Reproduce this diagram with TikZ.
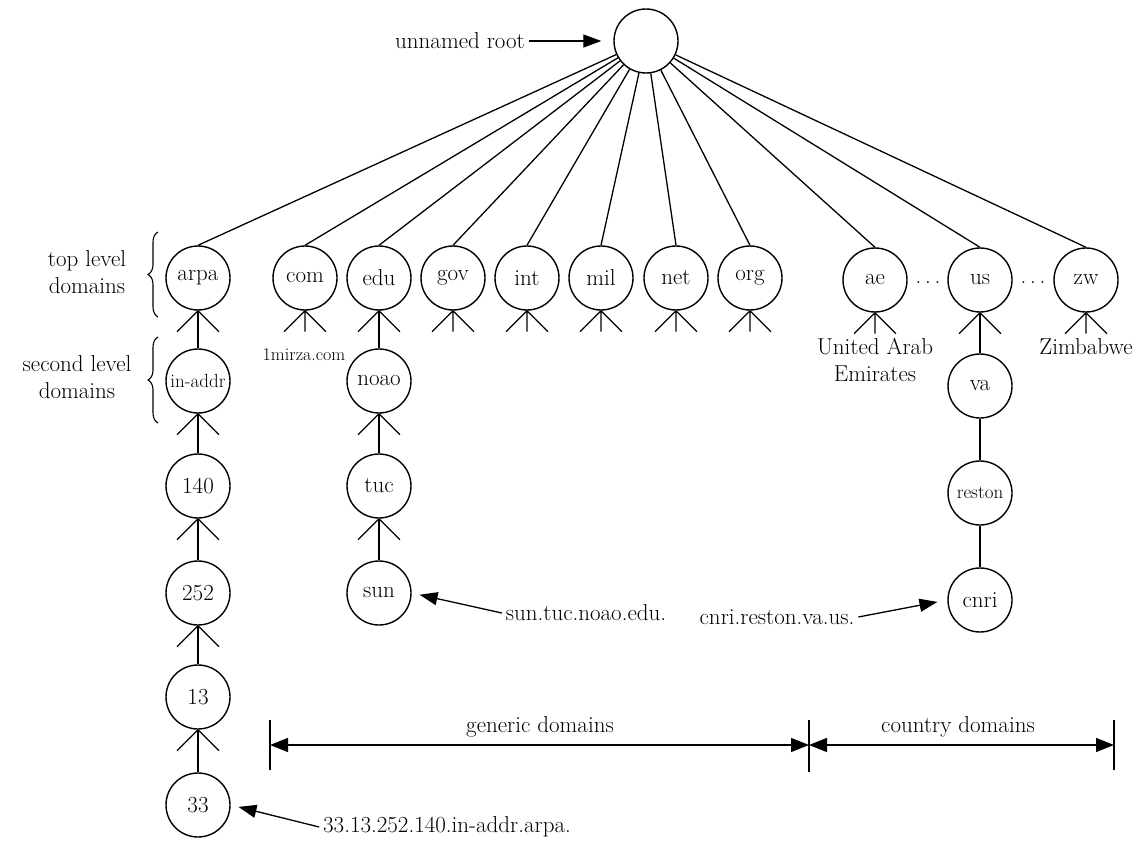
\documentclass[tikz,border=0pt]{standalone}
\usetikzlibrary{arrows.meta,decorations.pathreplacing}
\begin{document}
\begin{tikzpicture}[x=1pt,y=-1pt,
  line width=1.3pt,
  every node/.style={font=\fontsize{23}{27}\selectfont},
  dom/.style={draw,circle,minimum size=64pt,inner sep=0pt,line width=1.4pt},
  smalltxt/.style={font=\fontsize{19}{22}\selectfont},
  tinytxt/.style={font=\fontsize{18}{21}\selectfont},
  arr/.style={-{Triangle[length=18pt,width=13pt]}},
  dimarr/.style={{Triangle[length=18pt,width=14pt]}-{Triangle[length=18pt,width=14pt]}},
  crow/.pic={\draw (0,0) -- (-21,21) (0,0) -- (21,21) (0,0) -- (0,21);},
  vee/.pic={\draw (0,0) -- (-21,21) (0,0) -- (21,21);}
]
\useasboundingbox (0,0) rectangle (1145,842);

% root
\node[dom] (root) at (646,41) {};
\node (rootlbl) at (460,41) {unnamed root};
\draw[arr,shorten >=12pt] (rootlbl.east) -- (root.west);

% top level
\node[dom] (arpa) at (198,278) {arpa};
\node[dom] (com)  at (305,278) {com};
\node[dom] (edu)  at (379,278) {edu};
\node[dom] (gov)  at (453,278) {gov};
\node[dom] (int)  at (527,278) {int};
\node[dom] (mil)  at (601,278) {mil};
\node[dom] (net)  at (676,278) {net};
\node[dom] (org)  at (750,278) {org};
\node[dom] (ae)   at (875,280) {ae};
\node[dom] (us)   at (980,280) {us};
\node[dom] (zw)   at (1086,280) {zw};
\node (d1) at (928,283) {.\,.\,.};
\node (d2) at (1033,283) {.\,.\,.};

\foreach \n in {arpa,com,edu,gov,int,mil,net,org,ae,us,zw}
  \draw (root) -- (\n.north);

% braces
\node[align=center] (toplbl) at (87,272) {top level\\domains};
\node[align=center] (seclbl) at (77,377) {second level\\domains};
\coordinate (b1a) at (158,317);
\coordinate (b1b) at (158,232);
\coordinate (b2a) at (158,423);
\coordinate (b2b) at (158,337);
\draw[decorate,decoration={brace,amplitude=10pt},line width=1.1pt] (b1a) -- (b1b);
\draw[decorate,decoration={brace,amplitude=10pt},line width=1.1pt] (b2a) -- (b2b);

% arpa chain
\node[dom,smalltxt] (inaddr) at (198,381) {in-addr};
\node[dom] (n140) at (198,486) {140};
\node[dom] (n252) at (198,593) {252};
\node[dom] (n13)  at (198,697) {13};
\node[dom] (n33)  at (198,805) {33};
\pic at (arpa.south) {vee};   \draw (arpa.south) -- (inaddr.north);
\pic at (inaddr.south) {vee}; \draw (inaddr.south) -- (n140.north);
\pic at (n140.south) {vee};   \draw (n140.south) -- (n252.north);
\pic at (n252.south) {vee};   \draw (n252.south) -- (n13.north);
\pic at (n13.south) {vee};    \draw (n13.south) -- (n33.north);
\node (addrlbl) at (447,827) {33.13.252.140.in-addr.arpa.};
\draw[arr,shorten >=8pt] (addrlbl.west) -- (n33.east);

% com etc
\pic at (com.south) {crow};
\pic at (gov.south) {crow};
\pic at (int.south) {crow};
\pic at (mil.south) {crow};
\pic at (net.south) {crow};
\pic at (org.south) {crow};
\node[tinytxt] (mirza) at (304,355) {1mirza.com};

% edu chain
\node[dom] (noao) at (379,381) {noao};
\node[dom] (tuc)  at (379,486) {tuc};
\node[dom] (sun)  at (379,593) {sun};
\pic at (edu.south) {vee};  \draw (edu.south) -- (noao.north);
\pic at (noao.south) {vee}; \draw (noao.south) -- (tuc.north);
\pic at (tuc.south) {vee};  \draw (tuc.south) -- (sun.north);
\node (sunlbl) at (586,613) {sun.tuc.noao.edu.};
\draw[arr,shorten >=8pt] (sunlbl.west) -- (sun.east);

% country
\pic at (ae.south) {crow};
\pic at (zw.south) {crow};
\node[align=center] (uae) at (875,360) {United Arab\\Emirates};
\node (zim) at (1086,347) {Zimbabwe};
\node[dom] (va) at (980,386) {va};
\node[dom,smalltxt] (reston) at (980,493) {reston};
\node[dom] (cnri) at (980,600) {cnri};
\pic at (us.south) {vee}; \draw (us.south) -- (va.north);
\draw (va.south) -- (reston.north);
\draw (reston.south) -- (cnri.north);
\node (cnrilbl) at (777,617) {cnri.reston.va.us.};
\draw[arr,shorten >=10pt] (cnrilbl.east) -- (cnri.west);

% dimension lines
\coordinate (gL) at (270,745);
\coordinate (gM) at (809,745);
\coordinate (gR) at (1114,745);
\coordinate (gLt) at (270,720); \coordinate (gLb) at (270,770);
\coordinate (gMt) at (809,720); \coordinate (gMb) at (809,772);
\coordinate (gRt) at (1114,720); \coordinate (gRb) at (1114,770);
\draw (gLt) -- (gLb);
\draw (gMt) -- (gMb);
\draw (gRt) -- (gRb);
\draw[dimarr] (gL) -- (gM);
\draw[dimarr] (gM) -- (gR);
\node (gen) at (540,727) {generic domains};
\node (cty) at (958,727) {country domains};
\end{tikzpicture}
\end{document}
